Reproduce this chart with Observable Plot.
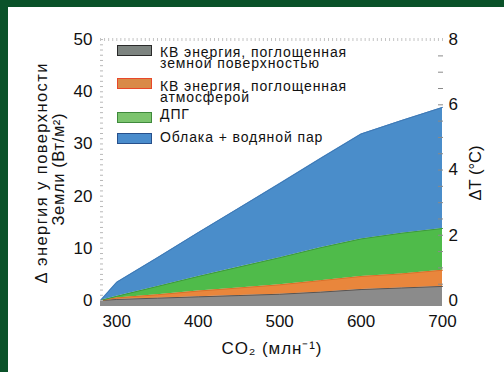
<!DOCTYPE html>
<html>
<head>
<meta charset="utf-8">
<script src="https://cdn.jsdelivr.net/npm/d3@7"></script>
<script src="https://cdn.jsdelivr.net/npm/@observablehq/plot@0.6"></script>
<style>
  body { margin: 0; background: #fff; }
  #wrap { position: relative; width: 504px; height: 372px; overflow: hidden; font-family: "Liberation Sans", Arial, sans-serif; background: #fff; }
  #wrap svg { position: absolute; left: 0; top: 0; }
  .frameTop { position: absolute; left: 0; top: 0; width: 504px; height: 7px; background: #0a5229; }
  .frameLeft { position: absolute; left: 0; top: 0; width: 8px; height: 372px; background: #0a5229; }
  .item { position: absolute; left: 117px; }
  .sw { position: absolute; left: 0; width: 33px; height: 9px; border: 1px solid; }
  .lbl { position: absolute; left: 43px; font-size: 14px; letter-spacing: 0.9px; line-height: 11.5px; color: #111; white-space: nowrap; }
</style>
</head>
<body>
<div id="wrap"></div>
<script>
// ---- data (cumulative top edge of each layer, W/m²) ----
const co2 = [280, 300, 350, 400, 450, 500, 550, 600, 650, 700];
const topSurface = [0, 0.2, 0.45, 0.7, 0.95, 1.2, 1.6, 2.1, 2.4, 2.7];
const topAtmos   = [0, 0.5, 1.1, 1.8, 2.4, 3.0, 3.8, 4.6, 5.1, 5.8];
const topGHG     = [0, 0.8, 2.7, 4.6, 6.4, 8.2, 10.1, 11.8, 12.9, 13.8];
const topClouds  = [0, 3.5, 8.2, 13.0, 17.7, 22.4, 27.2, 31.9, 34.5, 37.0];

const layerNames = [
  "КВ энергия, поглощенная\nземной поверхностью",
  "КВ энергия, поглощенная\nатмосферой",
  "ДПГ",
  "Облака + водяной пар"
];
const areaColors   = ["#8b8b8b", "#e9863c", "#4fbb4a", "#4a8dca"];
const edgeColors   = ["#5b5450", "#d9702a", "#3e9a3c", "#3f78b4"];
const swatchFills  = ["#7d8480", "#d98a48", "#7cc46e", "#4a8ccc"];
const swatchBorder = ["#2a2a2a", "#e8482a", "#3f8a3c", "#27508c"];

const xTicks = [300, 400, 500, 600, 700];
const yTicks = [0, 10, 20, 30, 40, 50];
const tTicks = [0, 2, 4, 6, 8];
const tMax = 8, yMaxTick = 50;           // 8 °C ↔ 50 W/m²
const yDomain = [-1.15, 50.4];
const xDomain = [280, 700];

const yTitleLines = ["Δ энергия у поверхности", "Земли (Вт/м²)"];
const xTitle = "CO₂ (млн⁻¹)";
const tTitle = "ΔT (°C)";

// ---- build layer rows ----
const tops = [topSurface, topAtmos, topGHG, topClouds];
const layers = tops.map((top, k) =>
  co2.map((x, i) => ({ x, y1: k === 0 ? yDomain[0] : tops[k - 1][i], y2: top[i] }))
);

const k = yMaxTick / tMax;
const font = "'Liberation Sans', Arial, sans-serif";

const chart = Plot.plot({
  width: 504, height: 372,
  marginLeft: 100, marginRight: 62, marginTop: 37, marginBottom: 66,
  x: { domain: xDomain },
  y: { domain: yDomain },
  style: { fontFamily: font, fontSize: "17px", color: "#111", background: "transparent", overflow: "visible" },
  marks: [
    ...layers.map((rows, i) => Plot.areaY(rows, { x: "x", y1: "y1", y2: "y2", fill: areaColors[i] })),
    ...layers.map((rows, i) => Plot.lineY(rows, { x: "x", y: "y2", stroke: edgeColors[i], strokeWidth: 1 })),
    // rulers
    Plot.axisY({ anchor: "left", ticks: d3.range(0, 51, 1), tickSize: -3, stroke: "#b8b8b8", tickFormat: () => "", label: null }),
    Plot.axisX({ anchor: "top", ticks: d3.range(280, 701, 5), tickSize: -3, stroke: "#c4c4c4", tickFormat: () => "", label: null }),
    Plot.axisY({ anchor: "right", ticks: d3.range(0.5, tMax, 0.5).map(t => t * k), tickSize: -5, stroke: "#8a8a8a", tickFormat: () => "", label: null }),
    // axes
    Plot.axisX({ ticks: xTicks, tickSize: 0, tickPadding: 8, fontSize: 17, label: null }),
    Plot.axisY({ anchor: "left", ticks: yTicks, tickSize: 0, tickPadding: 8, fontSize: 17, label: null }),
    Plot.axisY({ anchor: "right", ticks: tTicks.map(t => t * k), tickFormat: d => String(Math.round(d / k)), tickSize: 0, tickPadding: 6, fontSize: 17, label: null }),
    // titles
    Plot.text([yTitleLines[0]], { text: d => d, frameAnchor: "left", dx: -58.5, dy: 1.5, rotate: -90, textAnchor: "middle", lineAnchor: "middle", fontSize: 16.5, fill: "#111" }),
    Plot.text([yTitleLines[1]], { text: d => d, frameAnchor: "left", dx: -41.5, dy: -2.5, rotate: -90, textAnchor: "middle", lineAnchor: "middle", fontSize: 16.5, fill: "#111" }),
    Plot.text([tTitle], { text: d => d, frameAnchor: "right", dx: 33, dy: 1, rotate: -90, textAnchor: "middle", lineAnchor: "middle", fontSize: 16.5, fill: "#111" }),
    Plot.text([xTitle], { text: d => d, frameAnchor: "bottom", dy: 42, textAnchor: "middle", lineAnchor: "middle", fontSize: 17, fill: "#111" })
  ]
});

const wrap = document.getElementById("wrap");
wrap.appendChild(chart);
wrap.insertAdjacentHTML("beforeend", '<div class="frameTop"></div><div class="frameLeft"></div>');

// fit title lengths to the reference layout
const fit = new Map([[yTitleLines[0], 220], [yTitleLines[1], 112], [tTitle, 55], [xTitle, 100]]);
chart.querySelectorAll("text").forEach(t => {
  const s = t.textContent;
  if (fit.has(s)) {
    t.setAttribute("textLength", fit.get(s));
    t.setAttribute("lengthAdjust", "spacing");
  }
});

// legend
const swTops = [45, 78, 112, 133];
const lblTops = [46.7, 80.7, 109.2, 131.7];
layerNames.forEach((name, i) => {
  const it = document.createElement("div");
  it.className = "item";
  it.style.top = "0px";
  const sw = document.createElement("div");
  sw.className = "sw";
  sw.style.top = swTops[i] + "px";
  sw.style.background = swatchFills[i];
  sw.style.borderColor = swatchBorder[i];
  const lb = document.createElement("div");
  lb.className = "lbl";
  lb.style.top = lblTops[i] + "px";
  lb.innerHTML = name.replace("\n", "<br>");
  it.appendChild(sw); it.appendChild(lb);
  wrap.appendChild(it);
});
</script>
</body>
</html>
